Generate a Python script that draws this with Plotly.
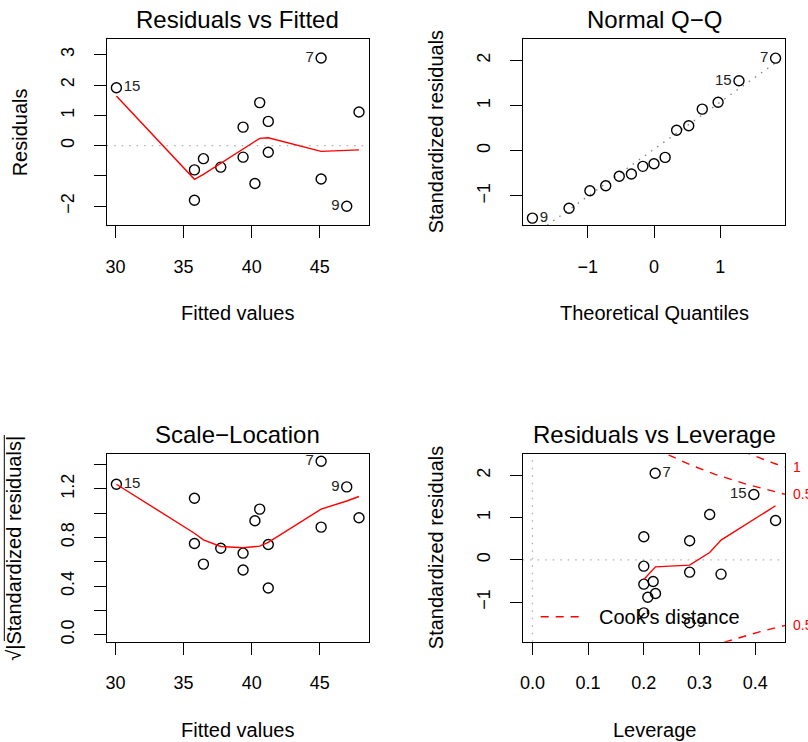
import numpy as np
import plotly.graph_objects as go

FONT = "Liberation Sans, Arial, sans-serif"
W, H = 808, 742

# ---------------- Residuals vs Fitted ----------------
fitted = [30.07, 35.80, 35.80, 36.46, 37.73, 39.37, 39.37, 40.24,
          40.59, 41.22, 41.22, 45.10, 45.10, 46.98, 47.88]
residuals = [1.91, -0.80, -1.80, -0.43, -0.71, 0.61, -0.38, -1.25,
             1.42, 0.80, -0.22, 2.89, -1.10, -2.00, 1.11]
rvf_labels = ["15", "", "", "", "", "", "", "", "", "", "", "7", "", "9", ""]
rvf_smooth_x = [30.07, 35.80, 36.46, 37.73, 39.37, 40.24, 40.59, 41.22, 45.10, 46.98, 47.88]
rvf_smooth_y = [1.64, -1.11, -0.95, -0.58, -0.12, 0.13, 0.24, 0.26, -0.19, -0.155, -0.14]

# ---------------- Normal Q-Q ----------------
theoretical_q = [-1.834, -1.282, -0.967, -0.728, -0.524, -0.341, -0.168, 0.0,
                 0.168, 0.341, 0.524, 0.728, 0.967, 1.282, 1.834]
sample_q = [-1.49, -1.27, -0.885, -0.775, -0.563, -0.512, -0.344, -0.285,
            -0.146, 0.454, 0.556, 0.922, 1.075, 1.55, 2.05]
qq_labels = ["9", "", "", "", "", "", "", "", "", "", "", "", "", "15", "7"]
z_quartile = 0.6744898

# ---------------- Scale-Location ----------------
sl_fitted = [30.07, 35.80, 35.80, 36.46, 37.73, 39.37, 39.37, 40.24,
             40.59, 41.22, 41.22, 45.10, 45.10, 46.98, 47.88]
sl_sqrt_abs = [1.238, 0.751, 1.123, 0.581, 0.712, 0.671, 0.532, 0.937,
               1.033, 0.742, 0.384, 1.427, 0.885, 1.216, 0.962]
sl_labels = ["15", "", "", "", "", "", "", "", "", "", "", "7", "", "9", ""]
sl_smooth_x = [30.07, 35.80, 36.46, 37.73, 39.37, 40.24, 40.59, 41.22, 45.10, 46.98, 47.88]
sl_smooth_y = [1.238, 0.835, 0.780, 0.726, 0.715, 0.723, 0.729, 0.760, 1.033, 1.100, 1.137]

# ---------------- Residuals vs Leverage ----------------
leverage = [0.2204, 0.3976, 0.3183, 0.4366, 0.2000, 0.2823, 0.2000, 0.2823,
            0.3387, 0.2000, 0.2168, 0.2210, 0.2072, 0.2000, 0.2823]
lev_std_resid = [2.05, 1.547, 1.073, 0.931, 0.545, 0.450, -0.150, -0.292,
                 -0.339, -0.576, -0.513, -0.797, -0.884, -1.255, -1.49]
lev_labels = ["7", "15", "", "", "", "", "", "", "", "", "", "", "", "", "9"]
lev_smooth_x = [0.2000, 0.2072, 0.2168, 0.2210, 0.2823, 0.3183, 0.3387, 0.3976, 0.4366]
lev_smooth_y = [-0.466, -0.363, -0.226, -0.166, -0.126, 0.174, 0.466, 0.945, 1.280]
n_params = 4
cook_levels = [0.5, 1.0]


def extend(lo, hi, f=0.04):
    d = (hi - lo) * f
    return [lo - d, hi + d]


# axis ranges in the style of base R graphics
x1 = extend(min(fitted), max(fitted))
y1 = extend(*extend(min(residuals), max(residuals), 0.08))
x2 = extend(min(theoretical_q), max(theoretical_q))
y2lim = [min(sample_q), max(sample_q) + 0.075 * (max(sample_q) - min(sample_q))]
y2 = extend(*y2lim)
x3 = x1
y3 = extend(0, max(sl_sqrt_abs))
x4 = extend(0, max(leverage))
y4 = extend(*extend(min(lev_std_resid), max(lev_std_resid), 0.08))


def px_x(a, b):
    return [a / W, b / W]


def px_y(top, bottom):
    return [1 - bottom / H, 1 - top / H]


dom_x_left = px_x(106.7, 368.7)
dom_x_right = px_x(522.7, 785.3)
dom_y_top = px_y(39.3, 225.0)
dom_y_bottom = px_y(454.3, 641.7)


def positions(xs, labels):
    # labelled points left of the middle of their spread get text on the right
    lab_x = [x for x, l in zip(xs, labels) if l]
    mid = (min(lab_x) + max(lab_x)) / 2
    return ["middle right" if x < mid else "middle left" for x in xs]


fig = go.Figure()

pt_style = dict(mode="markers+text",
                marker=dict(symbol="circle-open", size=10, color="black",
                            line=dict(width=1.4, color="black")),
                textfont=dict(family=FONT, size=15, color="#222"),
                showlegend=False, cliponaxis=False)
red_line = dict(mode="lines", line=dict(color="red", width=1.4), showlegend=False)
grey_dot = dict(color="#b0b0b0", width=1.3, dash="1.5px,6px")

# Panel 1
fig.add_trace(go.Scatter(x=[x1[0], x1[1]], y=[0, 0], mode="lines", line=grey_dot,
                         xaxis="x", yaxis="y", showlegend=False))
fig.add_trace(go.Scatter(x=fitted, y=residuals, text=rvf_labels,
                         textposition=positions(fitted, rvf_labels), xaxis="x", yaxis="y", **pt_style))
fig.add_trace(go.Scatter(x=rvf_smooth_x, y=rvf_smooth_y, xaxis="x", yaxis="y", **red_line))

# Panel 2: reference line through the quartiles
q1, q3 = np.quantile(sample_q, [0.25, 0.75])
slope = (q3 - q1) / (2 * z_quartile)
intercept = q1 + slope * z_quartile
fig.add_trace(go.Scatter(x=x2, y=[intercept + slope * v for v in x2], mode="lines",
                         line=dict(color="#7f7f7f", width=1.3, dash="1.5px,6px"),
                         xaxis="x2", yaxis="y2", showlegend=False))
fig.add_trace(go.Scatter(x=theoretical_q, y=sample_q, text=qq_labels,
                         textposition=positions(theoretical_q, qq_labels), xaxis="x2", yaxis="y2", **pt_style))

# Panel 3
fig.add_trace(go.Scatter(x=sl_fitted, y=sl_sqrt_abs, text=sl_labels,
                         textposition=positions(sl_fitted, sl_labels), xaxis="x3", yaxis="y3", **pt_style))
fig.add_trace(go.Scatter(x=sl_smooth_x, y=sl_smooth_y, xaxis="x3", yaxis="y3", **red_line))

# Panel 4
fig.add_trace(go.Scatter(x=x4, y=[0, 0], mode="lines", line=grey_dot,
                         xaxis="x4", yaxis="y4", showlegend=False))
fig.add_trace(go.Scatter(x=[0, 0], y=y4, mode="lines", line=grey_dot,
                         xaxis="x4", yaxis="y4", showlegend=False))
fig.add_trace(go.Scatter(x=leverage, y=lev_std_resid, text=lev_labels,
                         textposition=positions(leverage, lev_labels), xaxis="x4", yaxis="y4", **pt_style))
fig.add_trace(go.Scatter(x=lev_smooth_x, y=lev_smooth_y, xaxis="x4", yaxis="y4", **red_line))

hh = np.linspace(min(min(leverage), max(leverage) / 100), x4[1], 101)
for crit in cook_levels:
    cl = np.sqrt(crit * n_params * (1 - hh) / hh)
    for sgn in (1, -1):
        fig.add_trace(go.Scatter(x=hh, y=sgn * cl, mode="lines",
                                 line=dict(color="red", width=1.4, dash="8px,7px"),
                                 xaxis="x4", yaxis="y4", showlegend=False))

# Cook's distance labels on the right edge
xmax = min(0.99, x4[1])
ymult = np.sqrt(n_params * (1 - xmax) / xmax)
annotations = []
for crit in cook_levels:
    for sgn in (1, -1):
        yv = sgn * ymult * np.sqrt(crit)
        if y4[0] <= yv <= y4[1]:
            annotations.append(dict(x=791 / W, xref="paper", y=yv, yref="y4",
                                    text=f"{crit:g}", showarrow=False, xanchor="left",
                                    yanchor="middle", xshift=0,
                                    font=dict(family=FONT, size=14, color="red")))


def axis(dom, rng, anchor, tickvals, ticktext, is_y=False):
    d = dict(domain=dom, range=rng, anchor=anchor, showline=True, mirror=True,
             linecolor="black", linewidth=1, ticks="outside", ticklen=12, tickwidth=1,
             tickcolor="black", showgrid=False, zeroline=False, automargin=False,
             tickvals=tickvals, ticktext=ticktext,
             tickfont=dict(family=FONT, size=18, color="black"),
             ticklabelstandoff=13)
    if is_y:
        d["tickangle"] = -90
    return d


fig.update_layout(
    xaxis=axis(dom_x_left, x1, "y", [30, 35, 40, 45], ["30", "35", "40", "45"]),
    yaxis=axis(dom_y_top, y1, "x", [-2, -1, 0, 1, 2, 3], ["−2", "", "0", "1", "2", "3"], True),
    xaxis2=axis(dom_x_right, x2, "y2", [-1, 0, 1], ["−1", "0", "1"]),
    yaxis2=axis(dom_y_top, y2, "x2", [-1, 0, 1, 2], ["−1", "0", "1", "2"], True),
    xaxis3=axis(dom_x_left, x3, "y3", [30, 35, 40, 45], ["30", "35", "40", "45"]),
    yaxis3=axis(dom_y_bottom, y3, "x3", [0, 0.2, 0.4, 0.6, 0.8, 1.0, 1.2, 1.4],
                ["0.0", "", "0.4", "", "0.8", "", "1.2", ""], True),
    xaxis4=axis(dom_x_right, x4, "y4", [0, 0.1, 0.2, 0.3, 0.4],
                ["0.0", "0.1", "0.2", "0.3", "0.4"]),
    yaxis4=axis(dom_y_bottom, y4, "x4", [-1, 0, 1, 2], ["−1", "0", "1", "2"], True),
)

titles = [("Residuals vs Fitted", "x", "y"), ("Normal Q−Q", "x2", "y2"),
          ("Scale−Location", "x3", "y3"), ("Residuals vs Leverage", "x4", "y4")]
xlabels = ["Fitted values", "Theoretical Quantiles", "Fitted values", "Leverage"]
ylabels = ["Residuals", "Standardized residuals", "√|Standardized residuals|",
           "Standardized residuals"]

for (t, xa, ya), xl, yl in zip(titles, xlabels, ylabels):
    annotations.append(dict(x=0.5, xref=f"{xa} domain", y=1, yref=f"{ya} domain",
                            text=t, showarrow=False, yanchor="middle", yshift=19.5,
                            font=dict(family=FONT, size=24, color="black")))
    annotations.append(dict(x=0.5, xref=f"{xa} domain", y=0, yref=f"{ya} domain",
                            text=xl, showarrow=False, yanchor="middle", yshift=-88,
                            font=dict(family=FONT, size=20, color="black")))
    xs = -86.5 if yl != "√|Standardized residuals|" else -93
    annotations.append(dict(x=0, xref=f"{xa} domain", y=0.5, yref=f"{ya} domain",
                            text=yl, showarrow=False, textangle=-90, xanchor="center",
                            xshift=xs, font=dict(family=FONT, size=20, color="black")))

# legend for the Cook's distance contours
annotations.append(dict(x=0.283, xref="x4 domain", y=0.133, yref="y4 domain",
                        text="Cook's distance", showarrow=False, xanchor="left",
                        yanchor="middle", font=dict(family=FONT, size=20, color="black")))
shapes = [
    dict(type="line", xref="x4 domain", yref="y4 domain", x0=0.0685, x1=0.218,
         y0=0.133, y1=0.133, line=dict(color="red", width=1.4, dash="8px,7px")),
    # radical bar over |Standardized residuals|
    dict(type="line", xref="paper", yref="paper", x0=4.3 / W, x1=4.3 / W,
         y0=1 - 641 / H, y1=1 - 435 / H, line=dict(color="black", width=1)),
]

fig.update_layout(width=W, height=H, autosize=False,
                  margin=dict(l=0, r=0, t=0, b=0),
                  paper_bgcolor="white", plot_bgcolor="white",
                  annotations=annotations, shapes=shapes, showlegend=False,
                  font=dict(family=FONT))

fig.write_html("out.html")
